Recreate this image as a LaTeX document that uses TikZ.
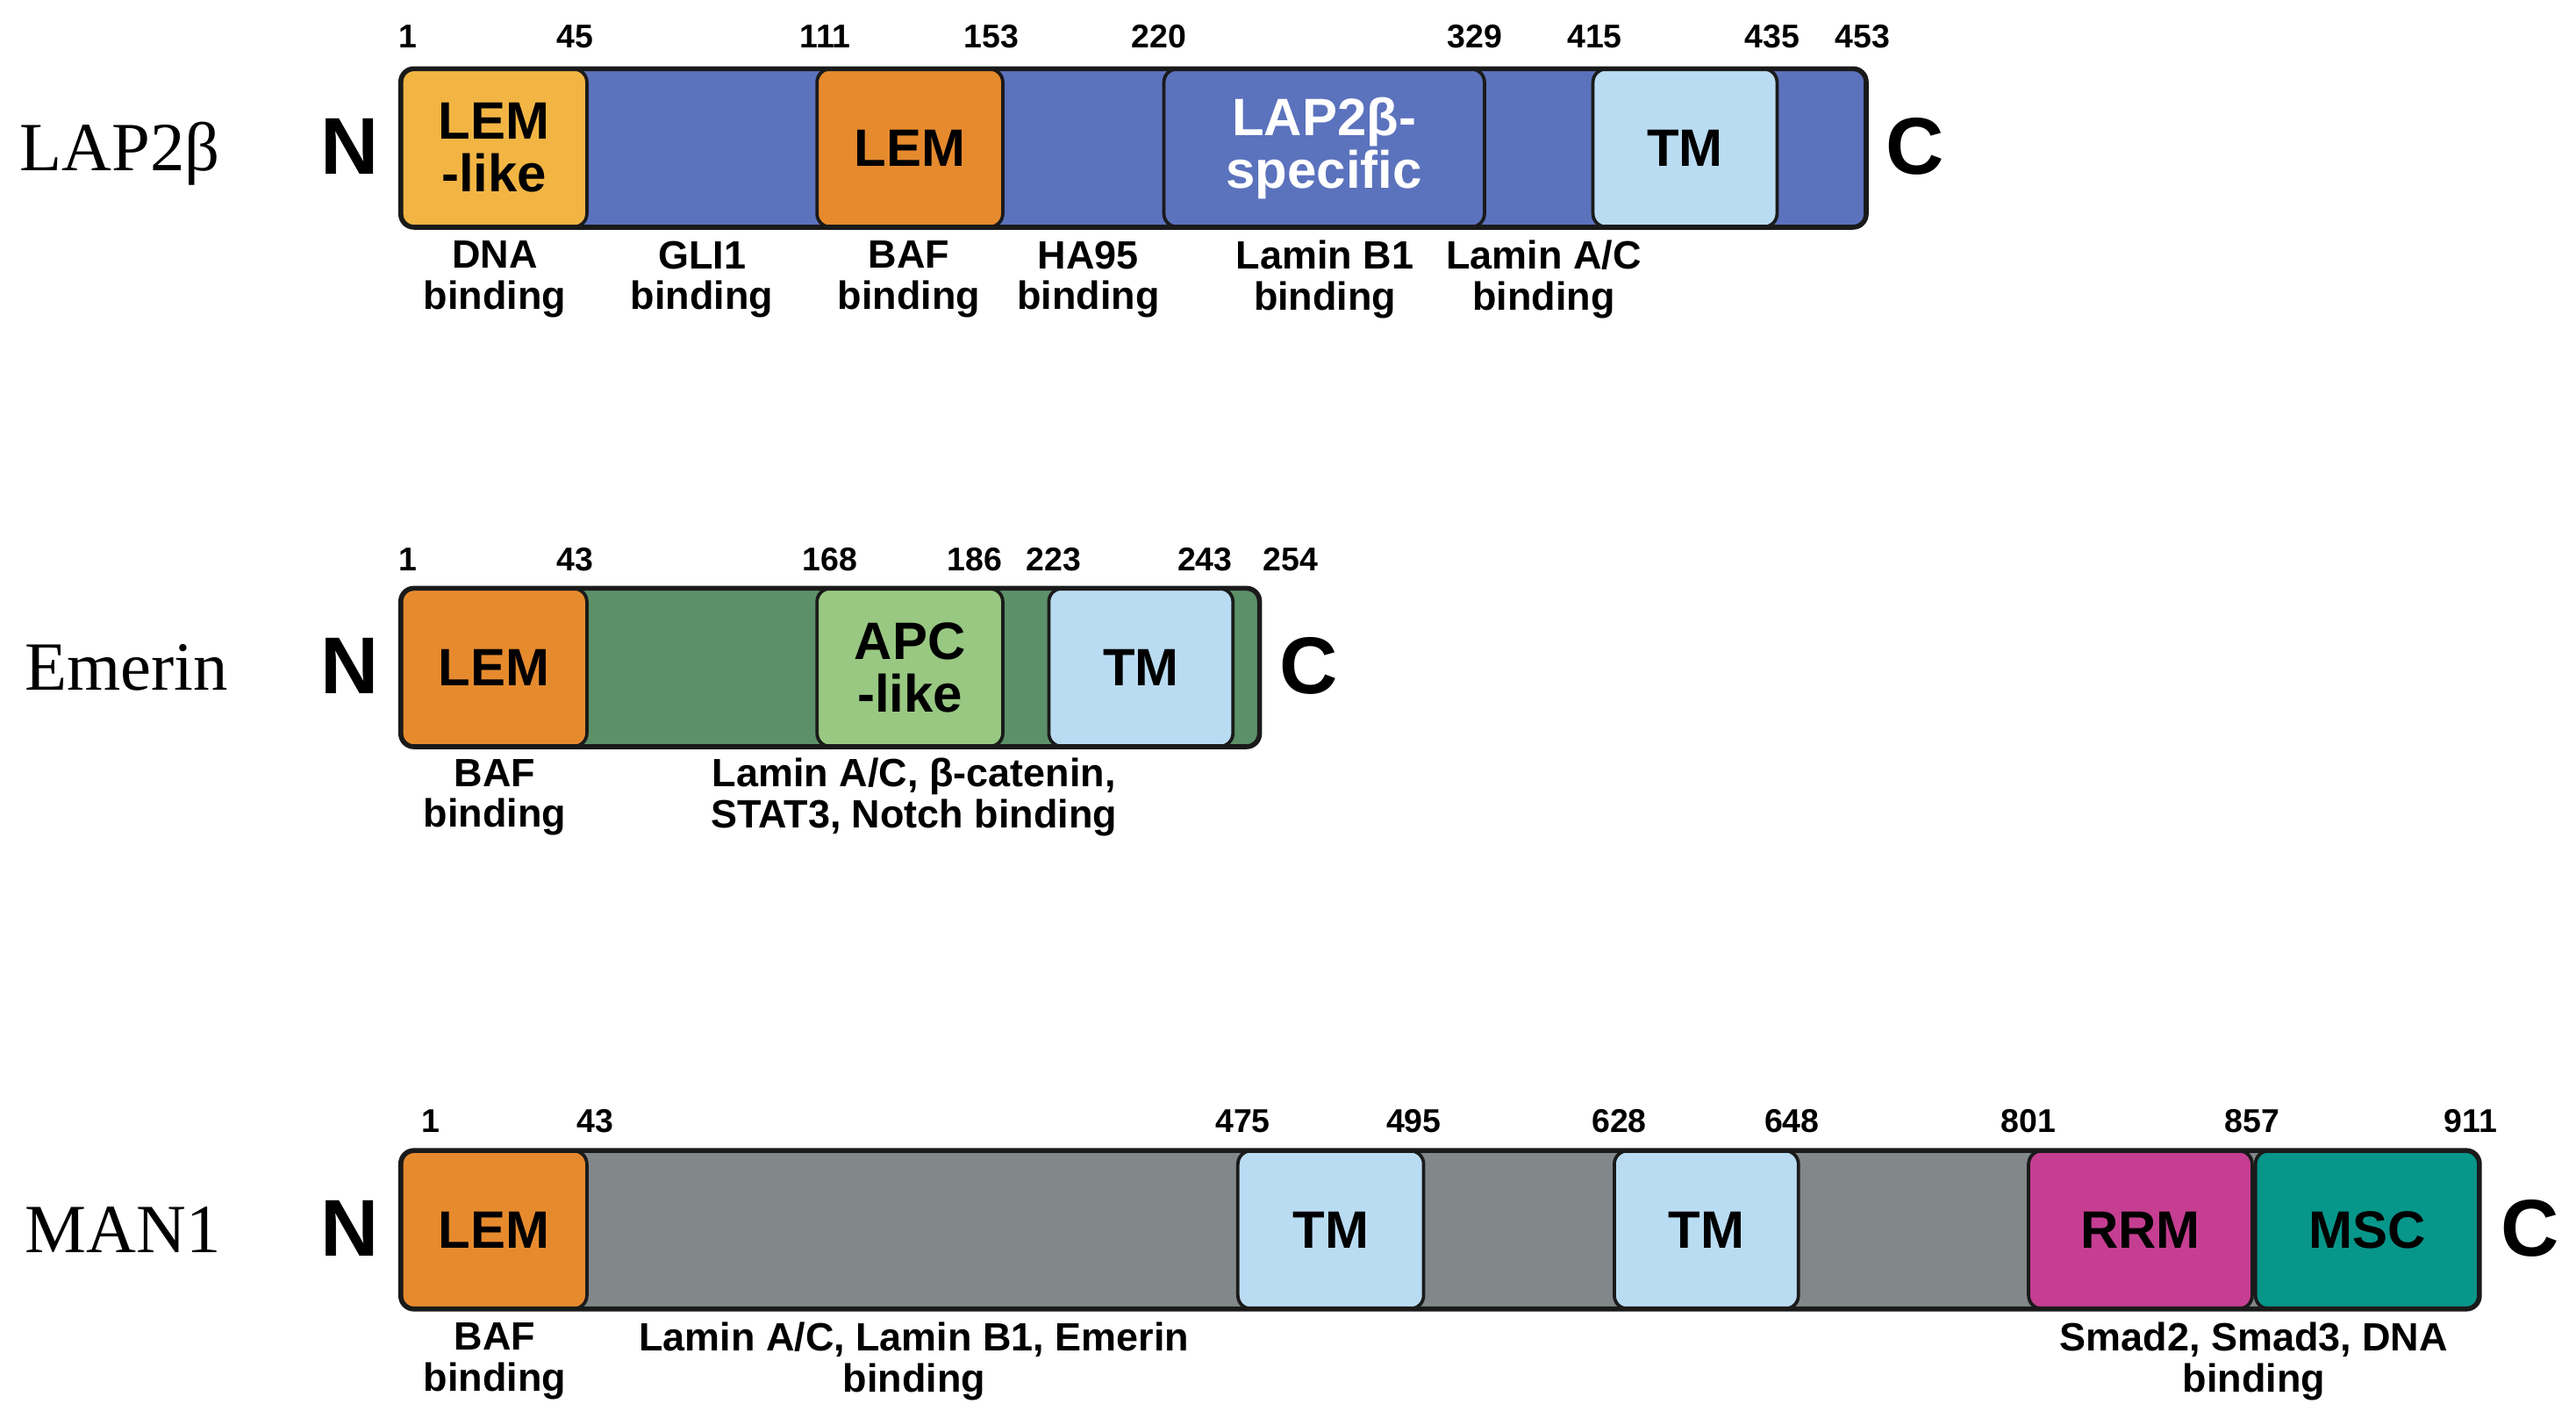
\documentclass[tikz,border=0pt]{standalone}
\usepackage{fontspec}
\setmainfont{Liberation Sans}
\newfontfamily\protfont{Liberation Serif}
\definecolor{lapblue}{HTML}{5B72BD}
\definecolor{emgreen}{HTML}{5C9068}
\definecolor{mangrey}{HTML}{82878A}
\definecolor{lemorange}{HTML}{E68A2E}
\definecolor{lemlike}{HTML}{F2B544}
\definecolor{apcgreen}{HTML}{98C882}
\definecolor{tmblue}{HTML}{BADCF3}
\definecolor{rrmmag}{HTML}{C53E91}
\definecolor{mscteal}{HTML}{07968A}
\definecolor{outl}{HTML}{1A1A1A}
\begin{document}
\begin{tikzpicture}[x=1pt,y=-1pt,
  protname/.style={anchor=base west,inner sep=0,font=\fontsize{42}{46}\selectfont\protfont},
  term/.style={anchor=base,inner sep=0,font=\fontsize{49}{50}\selectfont\bfseries},
  num/.style={anchor=base,inner sep=0,font=\fontsize{20}{22}\selectfont\bfseries},
  bind/.style={align=center,inner sep=0,font=\fontsize{24}{25}\selectfont\bfseries},
  barfill/.style={fill=#1,rounded corners=8pt,minimum height=96pt,inner sep=0,draw=none},
  barline/.style={draw=outl,line width=3pt,rounded corners=8pt},
  dom/.style={fill=#1,draw=outl,line width=2pt,rounded corners=8pt,minimum height=96pt,inner sep=0,align=center,font=\fontsize{32}{32}\selectfont\bfseries}
]
\useasboundingbox (0,0) rectangle (1567,862);

% ---------------- LAP2beta ----------------
\node[protname] (nLAP) at (12,104) {LAP2β};
\node[term] (N1) at (213,106) {N};
\node[term] (C1) at (1165,106) {C};
\node[barfill=lapblue,minimum width=891pt] (bar1) at (689.5,90) {};
\node[dom=lemlike,minimum width=113pt] (d11) at (300.5,90) {LEM\\-like};
\node[dom=lemorange,minimum width=113pt] (d12) at (553.5,90) {LEM};
\node[dom=lapblue,minimum width=195pt,text=white] (d13) at (805.5,90) {LAP2β-\\specific};
\node[dom=tmblue,minimum width=112pt] (d14) at (1025,90) {TM};
\draw[barline] (bar1.north west) rectangle (bar1.south east);
\node[num] (a1) at (248,29) {1};
\node[num] (a2) at (350,29) {45};
\node[num] (a3) at (502,29) {111};
\node[num] (a4) at (603,29) {153};
\node[num] (a5) at (705,29) {220};
\node[num] (a6) at (897,29) {329};
\node[num] (a7) at (970,29) {415};
\node[num] (a8) at (1078,29) {435};
\node[num] (a9) at (1133,29) {453};
\node[bind] (b11) at (301,170) {DNA\\binding};
\node[bind] (b12) at (427,170) {GLI1\\binding};
\node[bind] (b13) at (553,170) {BAF\\binding};
\node[bind] (b14) at (662,170) {HA95\\binding};
\node[bind] (b15) at (806,170) {Lamin B1\\binding};
\node[bind] (b16) at (939,170) {Lamin A/C\\binding};

% ---------------- Emerin ----------------
\node[protname] (nEM) at (15,420) {Emerin};
\node[term] (N2) at (213,422) {N};
\node[term] (C2) at (796,422) {C};
\node[barfill=emgreen,minimum width=522pt] (bar2) at (505,406) {};
\node[dom=lemorange,minimum width=113pt] (d21) at (300.5,406) {LEM};
\node[dom=apcgreen,minimum width=113pt] (d22) at (553.5,406) {APC\\-like};
\node[dom=tmblue,minimum width=112pt] (d23) at (694,406) {TM};
\draw[barline] (bar2.north west) rectangle (bar2.south east);
\node[num] (e1) at (248,347) {1};
\node[num] (e2) at (350,347) {43};
\node[num] (e3) at (505,347) {168};
\node[num] (e4) at (593,347) {186};
\node[num] (e5) at (641,347) {223};
\node[num] (e6) at (733,347) {243};
\node[num] (e7) at (785,347) {254};
\node[bind] (b21) at (301,485) {BAF\\binding};
\node[bind] (b22) at (556,485) {Lamin A/C, β-catenin,\\STAT3, Notch binding};

% ---------------- MAN1 ----------------
\node[protname] (nMAN) at (15,762) {MAN1};
\node[term] (N3) at (213,764) {N};
\node[term] (C3) at (1539,764) {C};
\node[barfill=mangrey,minimum width=1264pt] (bar3) at (876,748) {};
\node[dom=lemorange,minimum width=113pt] (d31) at (300.5,748) {LEM};
\node[dom=tmblue,minimum width=113pt] (d32) at (809.5,748) {TM};
\node[dom=tmblue,minimum width=112pt] (d33) at (1038,748) {TM};
\node[dom=rrmmag,minimum width=136pt] (d34) at (1302,748) {RRM};
\node[dom=mscteal,minimum width=136pt] (d35) at (1440,748) {MSC};
\draw[barline] (bar3.north west) rectangle (bar3.south east);
\node[num] (m1) at (262,689) {1};
\node[num] (m2) at (362,689) {43};
\node[num] (m3) at (756,689) {475};
\node[num] (m4) at (860,689) {495};
\node[num] (m5) at (985,689) {628};
\node[num] (m6) at (1090,689) {648};
\node[num] (m7) at (1234,689) {801};
\node[num] (m8) at (1370,689) {857};
\node[num] (m9) at (1503,689) {911};
\node[bind] (b31) at (301,828) {BAF\\binding};
\node[bind] (b32) at (556,828) {Lamin A/C, Lamin B1, Emerin\\binding};
\node[bind] (b33) at (1371,828) {Smad2, Smad3, DNA\\binding};
\end{tikzpicture}
\end{document}
